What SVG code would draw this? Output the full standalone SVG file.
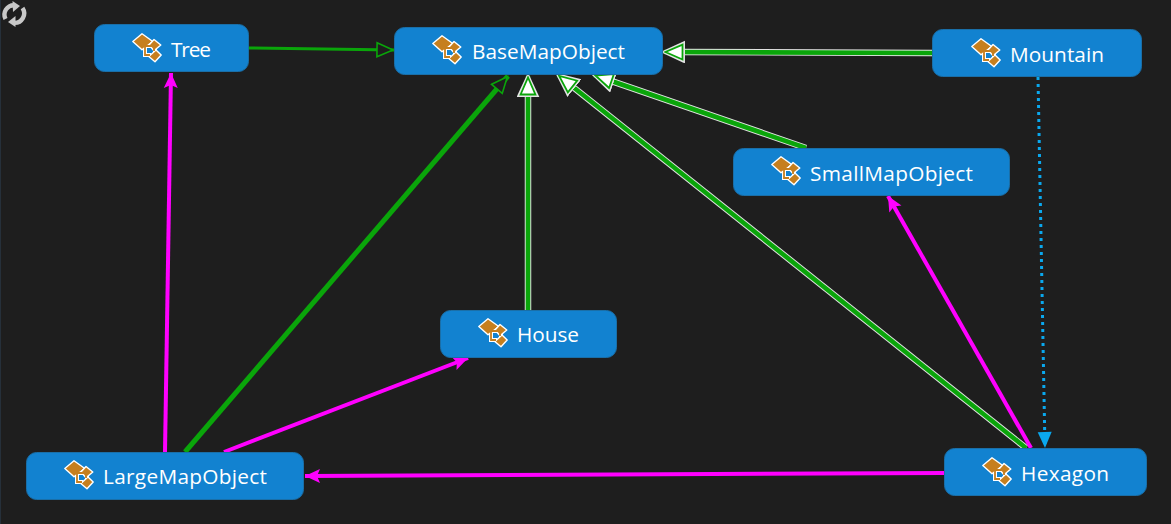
<svg xmlns="http://www.w3.org/2000/svg" width="1171" height="524" viewBox="0 0 1171 524">
<style>
.node{fill:#1282d0;stroke:#1a6fa8;stroke-width:1}
.label{font-family:"Open Sans","Noto Sans","Liberation Sans",sans-serif;font-size:20.8px;fill:#fff;dominant-baseline:central}
.casing{stroke:#e4e4e4;stroke-width:6.5;fill:none}
.inh{stroke:#0aa50a;stroke-width:4.6;fill:none}
.mag{stroke:#ff00ff;stroke-width:4;fill:none;marker-end:url(#mh)}
</style>
<defs>
<marker id="wh" markerUnits="userSpaceOnUse" markerWidth="26" markerHeight="26" refX="21" refY="11" orient="auto" viewBox="0 0 26 26"><polygon points="1.5,2 21,11 1.5,20" fill="#fff" stroke="#e4e4e4" stroke-width="3"/><polygon points="2.5,3.6 19.5,11 2.5,18.4" fill="#fff" stroke="#0aa50a" stroke-width="1.8"/></marker>
<marker id="hh" markerUnits="userSpaceOnUse" markerWidth="24" markerHeight="24" refX="19" refY="10" orient="auto" viewBox="0 0 24 24"><polygon points="2,3 18,10 2,17" fill="#1e1e1e" stroke="#0aa50a" stroke-width="1.6"/></marker>
<marker id="mh" markerUnits="userSpaceOnUse" markerWidth="20" markerHeight="20" refX="16" refY="10" orient="auto" viewBox="0 0 20 20"><polygon points="1,3 16,10 1,17 4,10" fill="#ff00ff"/></marker>
<marker id="bh" markerUnits="userSpaceOnUse" markerWidth="20" markerHeight="20" refX="17" refY="10" orient="auto" viewBox="0 0 20 20"><polygon points="1,3 17,10 1,17" fill="#0aa8ee"/></marker>
<g id="ic">
<path d="M13,11V22H19M13,13H23V19" fill="none" stroke="#fff" stroke-width="4"/>
<g stroke="#fff" stroke-width="1.4" stroke-linejoin="round" fill="#c67f1e">
<polygon points="10,.8 20.8,8.5 10,16.8 .8,8.5"/>
<polygon points="22,6.5 28.8,12 22,17.8 17,12"/>
<polygon points="24,17 29.2,22 23,28.8 16.8,23.5"/>
</g>
<path d="M13,13V22H18M13,13H22V18" fill="none" stroke="#c67f1e" stroke-width="1.8"/>
</g>
</defs>
<rect width="1171" height="524" fill="#1e1e1e"/>
<rect x="0" y="0" width="1" height="524" fill="#26303a"/>
<g id="refresh" fill="none" stroke="#c8c8c8" stroke-width="4.4">
<path d="M5.5,19A9.5,9.5 0 0 1 14,5.2"/><polygon points="12.5,1 20,6 13,12" fill="#c8c8c8" stroke="none"/>
<path d="M22.5,8A9.5,9.5 0 0 1 14,22.8"/><polygon points="15.5,16 8,22 15.5,27" fill="#c8c8c8" stroke="none"/>
</g>
<g id="connectors">
<line class="inh" style="stroke-width:3" x1="249" y1="48" x2="394" y2="50" marker-end="url(#hh)"/>
<line class="inh" style="stroke-width:5" x1="185" y1="452" x2="508" y2="76" marker-end="url(#hh)"/>
<line class="casing" x1="932" y1="53" x2="682" y2="52"/>
<line class="inh" x1="932" y1="53" x2="664" y2="52" marker-end="url(#wh)"/>
<line class="casing" x1="528" y1="310" x2="528" y2="97"/>
<line class="inh" x1="528" y1="310" x2="528" y2="76" marker-end="url(#wh)"/>
<line class="casing" x1="1026" y1="448" x2="572" y2="86.2"/>
<line class="inh" x1="1026" y1="448" x2="558" y2="75" marker-end="url(#wh)"/>
<line class="casing" x1="806" y1="148" x2="611" y2="80.9"/>
<line class="inh" x1="806" y1="148" x2="594" y2="75" marker-end="url(#wh)"/>
<line class="mag" x1="165" y1="452" x2="171" y2="73"/>
<line class="mag" x1="224" y1="452" x2="468" y2="358"/>
<line class="mag" x1="1031" y1="448" x2="888" y2="196"/>
<line class="mag" x1="944" y1="473" x2="305" y2="476"/>
<line x1="1038" y1="77" x2="1045" y2="448" stroke="#0aa8ee" stroke-width="3" stroke-dasharray="3,4" marker-end="url(#bh)"/>
</g>
<g id="Tree"><rect class="node" x="94.5" y="24.5" width="154" height="47" rx="10"/><use href="#ic" x="132" y="33"/><text class="label" x="171" y="49" textLength="40">Tree</text></g>
<g id="BaseMapObject"><rect class="node" x="394.5" y="27.5" width="268" height="47" rx="10"/><use href="#ic" x="432" y="35"/><text class="label" x="472" y="51" textLength="153">BaseMapObject</text></g>
<g id="Mountain"><rect class="node" x="932.5" y="29.5" width="209" height="47" rx="10"/><use href="#ic" x="971" y="38"/><text class="label" x="1010" y="54" textLength="94">Mountain</text></g>
<g id="SmallMapObject"><rect class="node" x="733.5" y="148.5" width="276" height="47" rx="10"/><use href="#ic" x="771" y="156"/><text class="label" x="810" y="173" textLength="163">SmallMapObject</text></g>
<g id="House"><rect class="node" x="440.5" y="310.5" width="176" height="47" rx="10"/><use href="#ic" x="478" y="318"/><text class="label" x="517" y="334" textLength="62">House</text></g>
<g id="LargeMapObject"><rect class="node" x="26.5" y="452.5" width="277" height="47" rx="10"/><use href="#ic" x="64" y="460"/><text class="label" x="103" y="476" textLength="164">LargeMapObject</text></g>
<g id="Hexagon"><rect class="node" x="944.5" y="448.5" width="202" height="47" rx="10"/><use href="#ic" x="982" y="457"/><text class="label" x="1021" y="473" textLength="88">Hexagon</text></g>
</svg>
